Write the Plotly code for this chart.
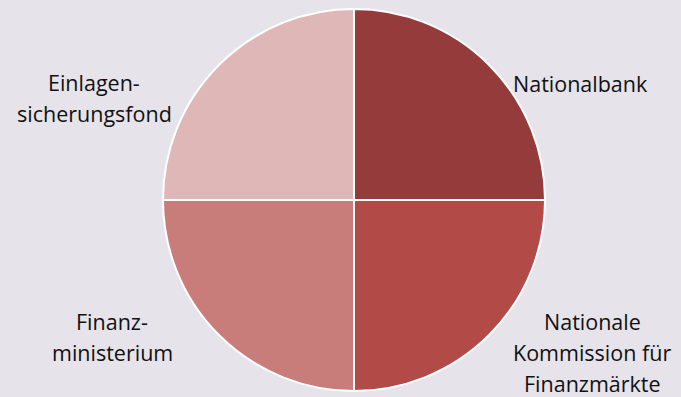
import plotly.graph_objects as go

labels = ["Nationalbank", "Nationale Kommission für Finanzmärkte", "Finanzministerium", "Einlagensicherungsfond"]
values = [25, 25, 25, 25]
colors = ["#953B3B", "#B24A48", "#C97D7B", "#DFB7B6"]
label_lines = [["Nationalbank"], ["Nationale", "Kommission für", "Finanzmärkte"], ["Finanz-", "ministerium"], ["Einlagen-", "sicherungsfond"]]
label_pos = [(580, 83), (592, 321.5), (112, 321.5), (94, 82)]

W, H = 681, 397
fig = go.Figure(go.Pie(
    labels=labels, values=values, sort=False, direction="clockwise", rotation=0,
    marker=dict(colors=colors, line=dict(color="white", width=2)),
    textinfo="none", hoverinfo="label+percent", showlegend=False,
    domain=dict(x=[163 / W, 545 / W], y=[1 - 391 / H, 1 - 9 / H]),
))

annotations = []
for lines, (cx, cy) in zip(label_lines, label_pos):
    for i, line in enumerate(lines):
        annotations.append(dict(
            x=cx / W, y=1 - (cy + i * 31) / H, xref="paper", yref="paper",
            text=line, showarrow=False, xanchor="center", yanchor="middle",
            font=dict(family="Open Sans", size=21.5, color="#111111"),
        ))

fig.update_layout(
    width=W, height=H, margin=dict(l=0, r=0, t=0, b=0),
    paper_bgcolor="#E6E3EA", plot_bgcolor="#E6E3EA",
    annotations=annotations,
)
fig.write_html("out.html")
